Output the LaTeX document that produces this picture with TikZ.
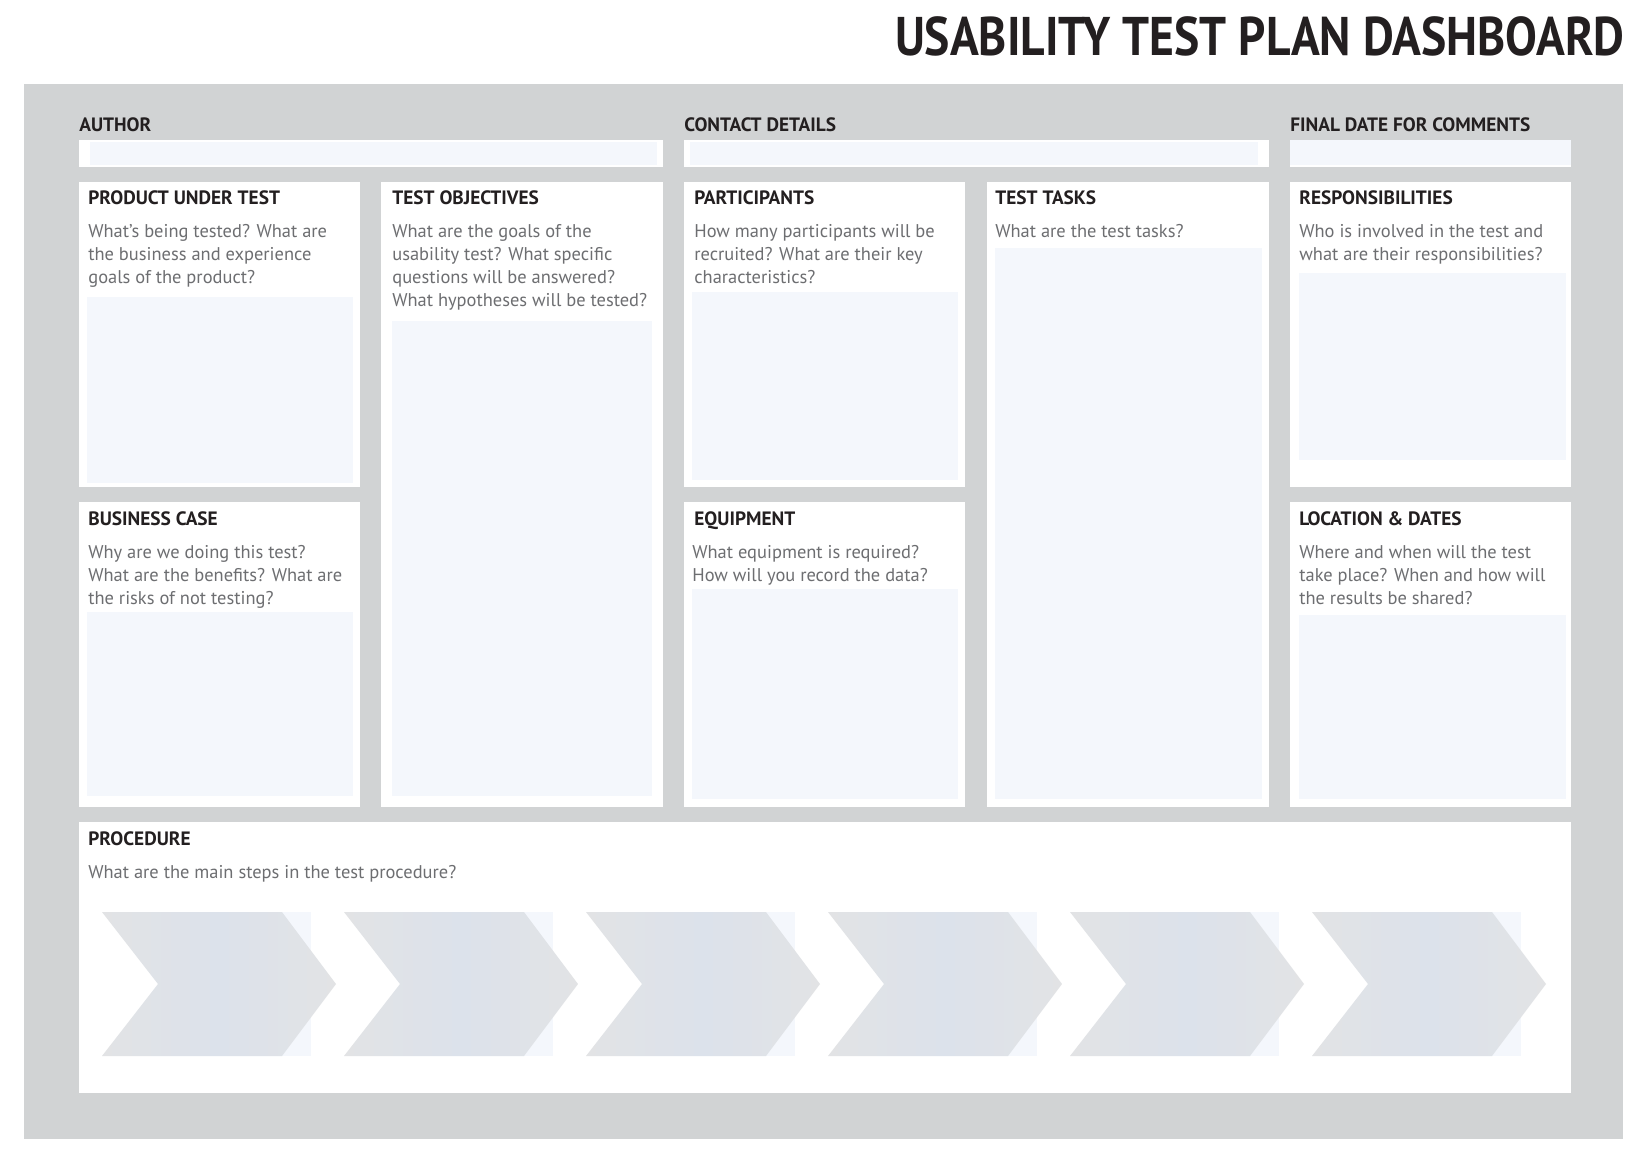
\documentclass[tikz,border=0pt]{standalone}
\usepackage{graphicx}
\usepackage{fontspec}
\setmainfont{PT Sans}

\definecolor{panelgray}{HTML}{D1D3D4}
\definecolor{fieldblue}{HTML}{F4F7FC}
\definecolor{ink}{HTML}{231F20}
\definecolor{askgray}{HTML}{6D6E71}
\definecolor{chevgray}{HTML}{E2E3E5}
\definecolor{chevblue}{HTML}{DCE2EB}

\tikzset{
  card/.style={fill=white},
  inset/.style={fill=fieldblue},
  heading/.style={anchor=base west,inner sep=0pt,text=ink,
    font=\bfseries\fontsize{11}{13}\selectfont},
  question/.style={anchor=north west,inner sep=0pt,align=left,text=askgray,
    font=\fontsize{10.5}{13.1}\selectfont},
  banner/.style={anchor=base east,inner sep=0pt,text=ink,
    font=\bfseries\fontsize{31}{36}\selectfont},
  chevron/.style={left color=chevgray,right color=chevgray,middle color=chevblue}
}

\begin{document}
\begin{tikzpicture}[x=0.02cm,y=-0.02cm]

\useasboundingbox (0,0) rectangle (1648,1154);

  \node[banner] (banner) at (1625,55) {\scalebox{0.874}[1]{USABILITY TEST PLAN DASHBOARD}};

\fill[panelgray] (24,84) rectangle (1623,1139);

% header fields
  \node[heading] (author) at (79,131) {AUTHOR};
  \node[heading] (contact) at (684,131) {CONTACT DETAILS};
  \node[heading] (finaldate) at (1290,131) {FINAL DATE FOR COMMENTS};
\fill[card] (79,140) rectangle (663,167);
\fill[card] (684,140) rectangle (1269,167);
\fill[card] (1290,140) rectangle (1571,167);
  \fill[inset] (90,142) rectangle (657,165);
  \fill[inset] (690,142) rectangle (1258,165);
  \fill[inset] (1290,140) rectangle (1571,165);

% cards
\fill[card] (79,182) rectangle (360,487);
\fill[card] (79,502) rectangle (360,807);
\fill[card] (381,182) rectangle (663,807);
\fill[card] (684,182) rectangle (965,487);
\fill[card] (684,502) rectangle (965,807);
\fill[card] (987,182) rectangle (1269,807);
\fill[card] (1290,182) rectangle (1571,487);
\fill[card] (1290,502) rectangle (1571,807);
\fill[card] (79,822) rectangle (1571,1093);

  \fill[inset] (87,297) rectangle (353,483);
  \fill[inset] (87,612) rectangle (353,796);
  \fill[inset] (392,321) rectangle (652,796);
  \fill[inset] (692,292) rectangle (958,480);
  \fill[inset] (692,589) rectangle (958,799);
  \fill[inset] (995,248) rectangle (1262,799);
  \fill[inset] (1299,273) rectangle (1566,460);
  \fill[inset] (1299,615) rectangle (1566,799);

% top row
  \node[heading] (product) at (88,204) {PRODUCT UNDER TEST};
  \node[question] (productq) at (88,224) {What’s being tested? What are\\the business and experience\\goals of the product?};

  \node[heading] (objectives) at (392,204) {TEST OBJECTIVES};
  \node[question] (objectivesq) at (392,224) {What are the goals of the\\usability test? What specific\\questions will be answered?\\What hypotheses will be tested?};

  \node[heading] (participants) at (694,204) {PARTICIPANTS};
  \node[question] (participantsq) at (694,224) {How many participants will be\\recruited? What are their key\\characteristics?};

  \node[heading] (tasks) at (995,204) {TEST TASKS};
  \node[question] (tasksq) at (995,224) {What are the test tasks?};

  \node[heading] (respons) at (1299,204) {RESPONSIBILITIES};
  \node[question] (responsq) at (1299,224) {Who is involved in the test and\\what are their responsibilities?};

% bottom row
  \node[heading] (business) at (88,525) {BUSINESS CASE};
  \node[question] (businessq) at (88,545) {Why are we doing this test?\\What are the benefits? What are\\the risks of not testing?};

  \node[heading] (equipment) at (694,525) {EQUIPMENT};
  \node[question] (equipmentq) at (692,545) {What equipment is required?\\How will you record the data?};

  \node[heading] (location) at (1299,525) {LOCATION \& DATES};
  \node[question] (locationq) at (1299,545) {Where and when will the test\\take place? When and how will\\the results be shared?};

% procedure
  \node[heading] (procedure) at (88,845) {PROCEDURE};
  \node[question] (procedureq) at (88,865) {What are the main steps in the test procedure?};

\foreach \l in {102,344,586,828,1070,1312}{
  \fill[inset] (\l+60,912) rectangle (\l+209,1056);
  \shade[chevron] (\l,912) -- (\l+180,912) -- (\l+234,984) -- (\l+180,1056)
    -- (\l,1056) -- (\l+56,984) -- cycle;
}

\end{tikzpicture}
\end{document}
